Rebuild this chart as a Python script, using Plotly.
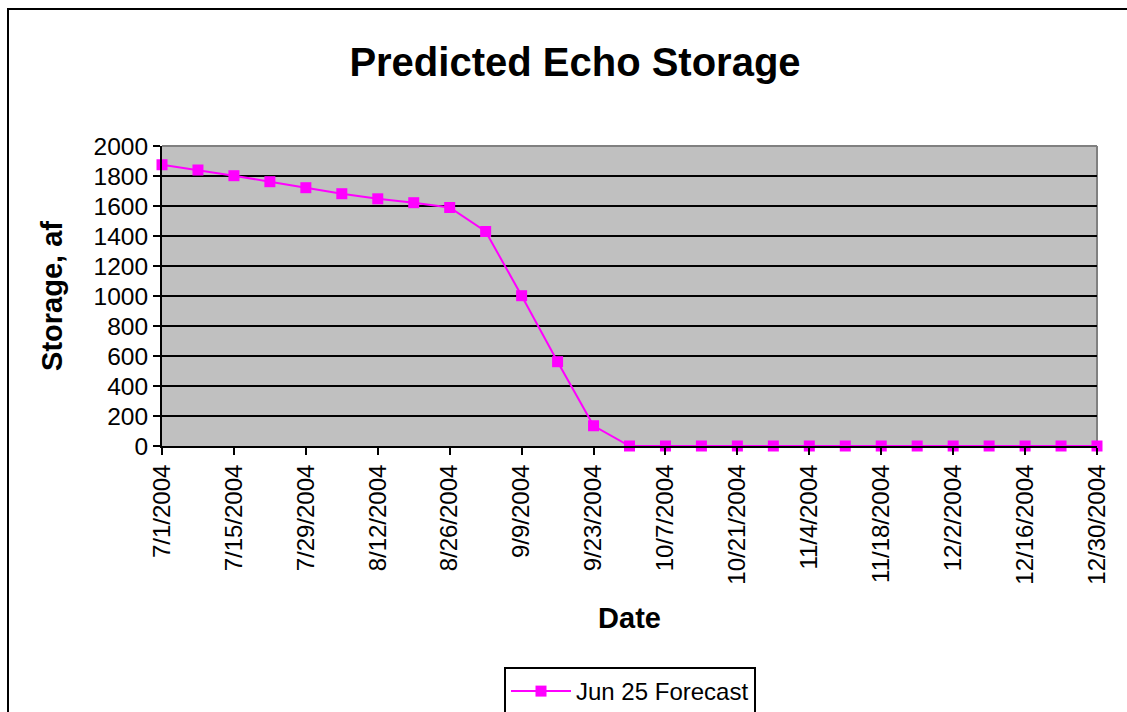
import plotly.graph_objects as go

# ---- data ----
dates = [
    "2004-07-01", "2004-07-08", "2004-07-15", "2004-07-22", "2004-07-29",
    "2004-08-05", "2004-08-12", "2004-08-19", "2004-08-26", "2004-09-02",
    "2004-09-09", "2004-09-16", "2004-09-23", "2004-09-30", "2004-10-07",
    "2004-10-14", "2004-10-21", "2004-10-28", "2004-11-04", "2004-11-11",
    "2004-11-18", "2004-11-25", "2004-12-02", "2004-12-09", "2004-12-16",
    "2004-12-23", "2004-12-30",
]
storage = [
    1875, 1840, 1802, 1762, 1722, 1682, 1648, 1622, 1590, 1430,
    1002, 562, 135, 0, 0, 0, 0, 0, 0, 0, 0, 0, 0, 0, 0, 0, 0,
]
tick_vals = [
    "2004-07-01", "2004-07-15", "2004-07-29", "2004-08-12", "2004-08-26",
    "2004-09-09", "2004-09-23", "2004-10-07", "2004-10-21", "2004-11-04",
    "2004-11-18", "2004-12-02", "2004-12-16", "2004-12-30",
]
tick_text = [
    "7/1/2004", "7/15/2004", "7/29/2004", "8/12/2004", "8/26/2004",
    "9/9/2004", "9/23/2004", "10/7/2004", "10/21/2004", "11/4/2004",
    "11/18/2004", "12/2/2004", "12/16/2004", "12/30/2004",
]
series_name = "Jun 25 Forecast"

FONT = "Liberation Sans, Arial, sans-serif"
W, H = 1127, 712
L, R, T, B = 162, 30, 146, 266
PW, PH = W - L - R, H - T - B


def px_x(p):
    return (p - L) / PW


def px_y(p):
    return (H - B - p) / PH


fig = go.Figure()
fig.add_trace(go.Scatter(
    x=dates, y=storage, name=series_name, mode="lines+markers",
    line=dict(color="#FF00FF", width=2),
    marker=dict(symbol="square", size=11, color="#FF00FF"),
    cliponaxis=False,
))

fig.update_layout(
    width=W, height=H,
    margin=dict(l=L, r=R, t=T, b=B, autoexpand=False),
    paper_bgcolor="white", plot_bgcolor="#C0C0C0",
    font=dict(family=FONT, color="black", size=24),
    title=dict(text="<b>Predicted Echo Storage</b>", x=575 / W, xanchor="center",
               y=1 - 62 / H, yanchor="middle", font=dict(size=40, family=FONT)),
    showlegend=True,
    legend=dict(x=px_x(630), xanchor="center", y=px_y(667), yanchor="top",
                bordercolor="black", borderwidth=2, bgcolor="white",
                itemwidth=60, tracegroupgap=0,
                font=dict(size=24, family=FONT)),
    xaxis=dict(
        type="date", range=["2004-07-01", "2004-12-30"],
        tickmode="array", tickvals=tick_vals, ticktext=tick_text,
        tickangle=-90, ticks="outside", ticklen=7, tickwidth=2, tickcolor="black",
        showgrid=False, zeroline=False, showline=True, linecolor="black", linewidth=2,
        tickfont=dict(size=24),
        title=dict(text="<b>Date</b>", font=dict(size=29), standoff=24),
    ),
    yaxis=dict(
        range=[0, 2000], dtick=200, tick0=0,
        ticks="outside", ticklen=7, tickwidth=2, tickcolor="black",
        showgrid=True, gridcolor="black", gridwidth=1.5,
        zeroline=False, showline=True, linecolor="black", linewidth=2,
        tickfont=dict(size=24.5),
        title=dict(text="<b>Storage, af</b>", font=dict(size=29), standoff=22),
    ),
    shapes=[
        # plot-area border (top and right, grey)
        dict(type="line", xref="paper", yref="paper", x0=0, x1=1, y0=1, y1=1,
             line=dict(color="#808080", width=2), layer="between"),
        dict(type="line", xref="paper", yref="paper", x0=1, x1=1, y0=0, y1=1,
             line=dict(color="#808080", width=2), layer="between"),
        # chart-area frame
        dict(type="rect", xref="paper", yref="paper",
             x0=px_x(8), x1=px_x(1128), y0=px_y(716), y1=px_y(9),
             line=dict(color="black", width=2), layer="above"),
    ],
)

fig.write_html(
    "out.html",
    config={"displayModeBar": False},
    post_script="document.body.style.margin='0';document.body.style.padding='0';",
)
